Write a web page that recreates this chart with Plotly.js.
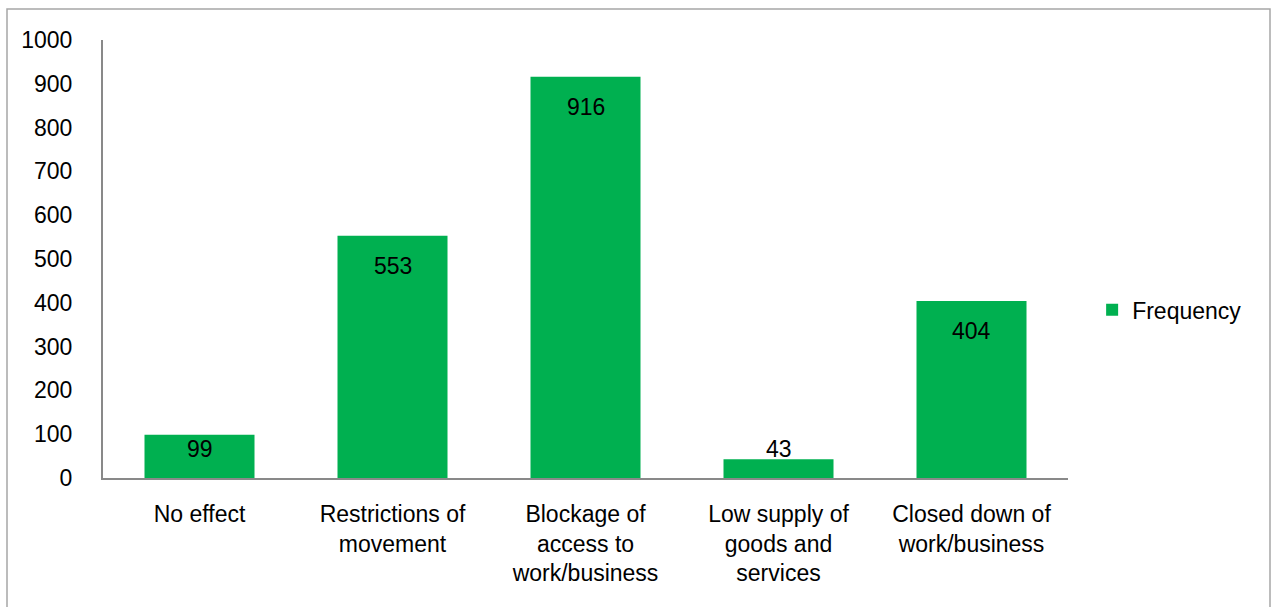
<!DOCTYPE html>
<html>
<head>
<meta charset="utf-8">
<script src="https://cdn.plot.ly/plotly-3.0.1.min.js"></script>
<style>
html,body{margin:0;padding:0;background:#fff;}
#chart{width:1271px;height:607px;}
</style>
</head>
<body>
<div id="chart"></div>
<script>
const categories = ["No effect", "Restrictions of<br>movement", "Blockage of<br>access to<br>work/business", "Low supply of<br>goods and<br>services", "Closed down of<br>work/business"];
const frequency = [99, 553, 916, 43, 404];
const seriesName = "Frequency";
const yTicks = [0, 100, 200, 300, 400, 500, 600, 700, 800, 900, 1000];

const FONT = "Liberation Sans, Arial, sans-serif";
const green = "#00B050";

// label positions derived from the data (inside end, clamped for short bars)
const pxPerUnit = 438 / 1000;
const annotations = frequency.map((v, i) => ({
  x: categories[i],
  y: Math.max(v - 30 / pxPerUnit, 29 / pxPerUnit),
  xref: 'x', yref: 'y',
  text: String(v),
  showarrow: false,
  yanchor: 'middle',
  font: {family: FONT, size: 23, color: '#000'}
}));

const trace = {
  type: 'bar',
  x: categories,
  y: frequency,
  name: seriesName,
  marker: {color: green},
  width: 0.57,
  hoverinfo: 'x+y'
};

const layout = {
  width: 1271,
  height: 607,
  margin: {l: 103, r: 203, t: 40, b: 129},
  paper_bgcolor: '#fff',
  plot_bgcolor: '#fff',
  font: {family: FONT, size: 23, color: '#000'},
  showlegend: true,
  legend: {
    x: 1.025, y: 0.384, xanchor: 'left', yanchor: 'middle',
    font: {family: FONT, size: 23, color: '#000'},
    itemwidth: 30
  },
  xaxis: {
    type: 'category',
    showline: true, linecolor: '#898989', linewidth: 2,
    ticks: '', showgrid: false, zeroline: false,
    ticklabelstandoff: 14,
    tickfont: {family: FONT, size: 23, color: '#000'}
  },
  yaxis: {
    range: [0, 1000],
    tickvals: yTicks,
    ticktext: yTicks.map(String),
    showline: true, linecolor: '#898989', linewidth: 2,
    ticks: '', showgrid: false, zeroline: false,
    ticklabelstandoff: 24,
    tickfont: {family: FONT, size: 23, color: '#000'}
  },
  annotations: annotations,
  shapes: [{
    type: 'rect', xref: 'paper', yref: 'paper',
    x0: (7 - 103) / 965, x1: (1270 - 103) / 965,
    y0: -0.5, y1: (478 - 9) / 438,
    line: {color: '#a6a6a6', width: 1.5},
    fillcolor: 'rgba(0,0,0,0)',
    layer: 'below'
  }]
};

Plotly.newPlot('chart', [trace], layout, {displayModeBar: false, staticPlot: true});
</script>
</body>
</html>
